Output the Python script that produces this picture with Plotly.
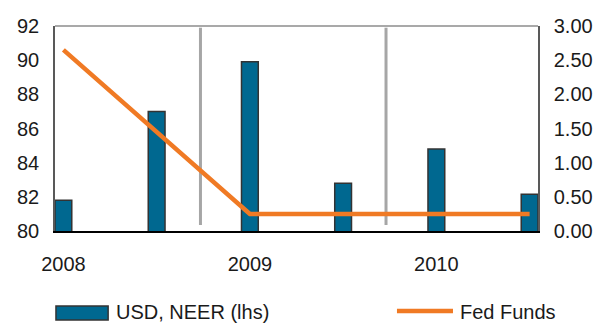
import plotly.graph_objects as go

# Half-yearly observations
periods = ["2008 H1", "2008 H2", "2009 H1", "2009 H2", "2010 H1", "2010 H2"]
usd_neer = [81.8, 87.0, 89.9, 82.8, 84.8, 82.15]   # left axis
fed_funds = [2.65, 1.45, 0.25, 0.25, 0.25, 0.25]   # right axis, %

tick_positions = [0, 2, 4]
tick_labels = ["2008", "2009", "2010"]

# Vertical event markers (position on the period axis, left-axis span)
event_x = [1.47, 3.46]
event_span = [80.35, 91.9]

x = list(range(len(periods)))

BAR = "#006890"
EDGE = "#333333"
ORANGE = "#F07A24"
GREY = "#A6A6A6"
FONT = "Liberation Sans, Arial, sans-serif"

fig = go.Figure()

fig.add_trace(go.Bar(
    x=x, y=usd_neer, name="USD, NEER (lhs)", width=0.18,
    marker=dict(color=BAR, line=dict(color=EDGE, width=1.5)),
    yaxis="y", showlegend=False,
))

for ex in event_x:
    fig.add_trace(go.Scatter(
        x=[ex, ex], y=event_span, mode="lines",
        line=dict(color=GREY, width=3), yaxis="y",
        showlegend=False, hoverinfo="skip",
    ))

fig.add_trace(go.Scatter(
    x=x, y=fed_funds, name="Fed Funds", mode="lines",
    line=dict(color=ORANGE, width=4.5), yaxis="y2", showlegend=False,
))

# Top border of the plot frame
fig.add_shape(type="line", xref="paper", yref="paper", x0=0, x1=1, y0=1, y1=1,
              line=dict(color="#8C8C8C", width=1.5))

# Legend drawn below the plot
fig.add_shape(type="rect", xref="paper", yref="paper",
              x0=0.002, x1=0.11, y0=-0.434, y1=-0.366,
              fillcolor=BAR, line=dict(color=EDGE, width=1.5))
fig.add_annotation(xref="paper", yref="paper", x=0.122, y=-0.395,
                   text="USD, NEER (lhs)", showarrow=False,
                   xanchor="left", yanchor="middle",
                   font=dict(family=FONT, size=20, color="#1a1a1a"))
fig.add_shape(type="line", xref="paper", yref="paper",
              x0=0.708, x1=0.824, y0=-0.39, y1=-0.39,
              line=dict(color=ORANGE, width=4.5))
fig.add_annotation(xref="paper", yref="paper", x=0.834, y=-0.395,
                   text="Fed Funds", showarrow=False,
                   xanchor="left", yanchor="middle",
                   font=dict(family=FONT, size=20, color="#1a1a1a"))

fig.update_layout(
    width=598, height=324,
    margin=dict(l=55, r=60, t=26, b=93, autoexpand=False),
    paper_bgcolor="white", plot_bgcolor="white",
    font=dict(family=FONT, size=20, color="#1a1a1a"),
    xaxis=dict(
        range=[-0.09, 5.09], tickvals=tick_positions, ticktext=tick_labels,
        showgrid=False, zeroline=False, showline=True, automargin=False,
        linecolor="#000000", linewidth=1.5, ticks="", ticklabelstandoff=14,
    ),
    yaxis=dict(
        range=[80, 92], dtick=2, showgrid=False, zeroline=False,
        showline=True, linecolor="#595959", linewidth=1.5, ticks="",
        ticklabelstandoff=10, automargin=False,
    ),
    yaxis2=dict(
        range=[0, 3], dtick=0.5, tickformat=".2f", overlaying="y",
        side="right", showgrid=False, zeroline=False, showline=True,
        linecolor="#595959", linewidth=1.5, ticks="", ticklabelstandoff=10,
        automargin=False,
    ),
    showlegend=False,
)

fig.write_html("out.html")
